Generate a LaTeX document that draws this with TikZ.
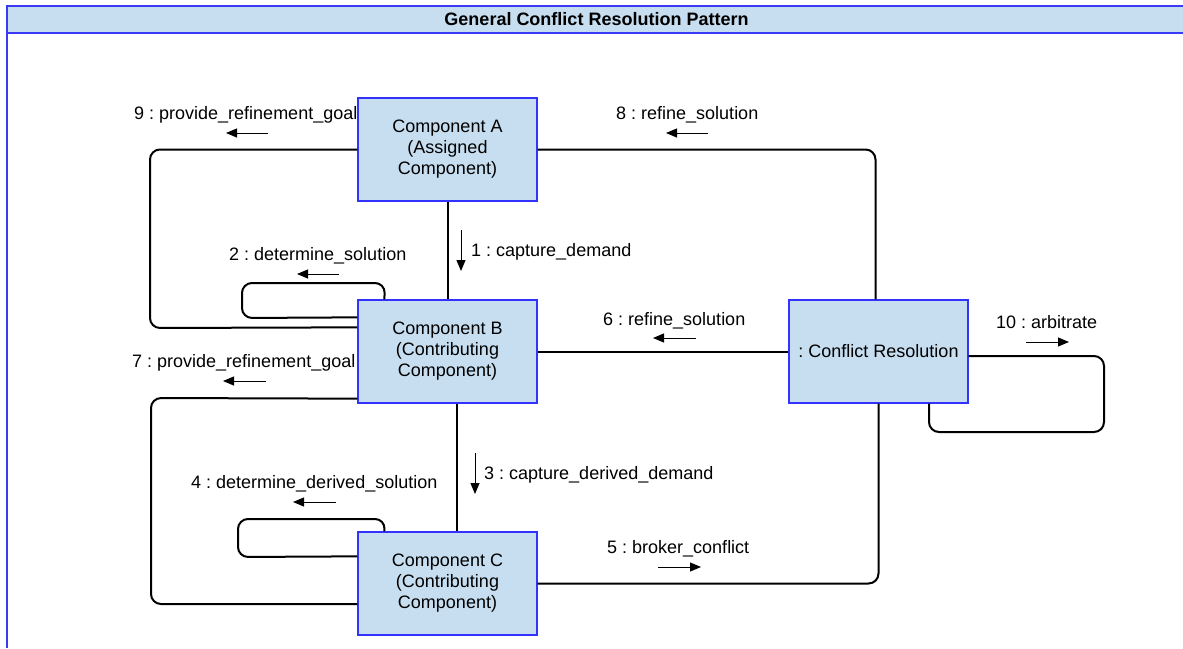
\documentclass[tikz,border=0pt]{standalone}
\usepackage{fontspec}
\setmainfont{Liberation Sans}
\usetikzlibrary{arrows.meta}
\frenchspacing
\definecolor{boxfill}{RGB}{198,222,240}
\definecolor{boxline}{RGB}{51,51,255}
\definecolor{frameline}{RGB}{58,58,245}
\tikzset{
  comp/.style={draw=boxline, line width=1.3pt, fill=boxfill, rectangle,
    minimum width=179pt, minimum height=103pt, inner sep=0pt, align=center,
    font=\fontsize{18}{21}\selectfont},
  conn/.style={draw=black, line width=2pt, rounded corners=10pt},
  msg/.style={anchor=base west, inner sep=0pt, font=\fontsize{18}{21}\selectfont},
  dirarrow/.style={draw=black, line width=1pt, -{Triangle[length=11pt,width=9pt]}}
}
\begin{document}
\begin{tikzpicture}[x=1pt,y=-1pt]
\useasboundingbox (0,0) rectangle (1183,648);
\fill[white] (0,0) rectangle (1183,648);

% frame with title bar
\fill[boxfill] (7,6) rectangle (1183,33);
\draw[frameline, line width=1.6pt] (1183,6) -- (7,6) -- (7,648);
\draw[frameline, line width=1.6pt] (7,33) -- (1183,33);
\node[inner sep=0pt, font=\fontsize{18}{21}\selectfont\bfseries] (title) at (596.5,19.5) {General Conflict Resolution Pattern};

% message labels (drawn before the boxes so the boxes sit on top)
\node[msg] (l9)  at (134,119) {9 : provide\_refinement\_goal};
\node[msg] (l8)  at (616,119) {8 : refine\_solution};
\node[msg] (l1)  at (471,256) {1 : capture\_demand};
\node[msg] (l2)  at (229,260) {2 : determine\_solution};
\node[msg] (l6)  at (603,325) {6 : refine\_solution};
\node[msg] (l10) at (996,328) {10 : arbitrate};
\node[msg] (l7)  at (132,367) {7 : provide\_refinement\_goal};
\node[msg] (l3)  at (484,479) {3 : capture\_derived\_demand};
\node[msg] (l4)  at (191,488) {4 : determine\_derived\_solution};
\node[msg] (l5)  at (607,553) {5 : broker\_conflict};

% components
\node[comp] (A) at (447.5,149.5) {Component A\\(Assigned\\Component)};
\node[comp] (B) at (447.5,351.5) {Component B\\(Contributing\\Component)};
\node[comp] (C) at (447.5,583.5) {Component C\\(Contributing\\Component)};
\node[comp] (D) at (878.5,351.5) {: Conflict Resolution};

% links between components
\draw[conn] (A.south) -- (B.north);
\draw[conn] ([xshift=9.5pt]B.south) -- ([xshift=9.5pt]C.north);
\draw[conn] (B.east) -- (D.west);
\draw[conn] (A.east) -- (875.5,149.5) -- ([xshift=-3pt]D.north);
\draw[conn] (C.east) -- (878.5,583.5) -- (D.south);
\draw[conn] (A.west) -- (150,149.5) -- (150,328) -- ([yshift=-28pt]B.north west);
\draw[conn] ([yshift=5pt]B.south west) -- (151,398) -- (151,604) -- ([yshift=-20.5pt]C.west);

% self links
\draw[conn] ([xshift=27pt]B.north west) -- (385,283) -- (242,283) -- (242,318) -- ([yshift=-18pt]B.north west);
\draw[conn] ([xshift=27pt]C.north west) -- (385,519) -- (238,519) -- (238,557) -- ([yshift=-25pt]C.north west);
\draw[conn] ([yshift=-4.5pt]D.east) -- (1104,356) -- (1104,432) -- (929,432) -- ([xshift=50.5pt]D.south);

% message direction arrows
\draw[dirarrow] (268,133) -- (226,133);
\draw[dirarrow] (708,133) -- (666,133);
\draw[dirarrow] (461,230) -- (461,271);
\draw[dirarrow] (339,274) -- (297,274);
\draw[dirarrow] (696,338) -- (653,338);
\draw[dirarrow] (1026,342) -- (1069,342);
\draw[dirarrow] (266,381) -- (223,381);
\draw[dirarrow] (475,453) -- (475,494);
\draw[dirarrow] (336,502) -- (293,502);
\draw[dirarrow] (658,567) -- (701,567);
\end{tikzpicture}
\end{document}
